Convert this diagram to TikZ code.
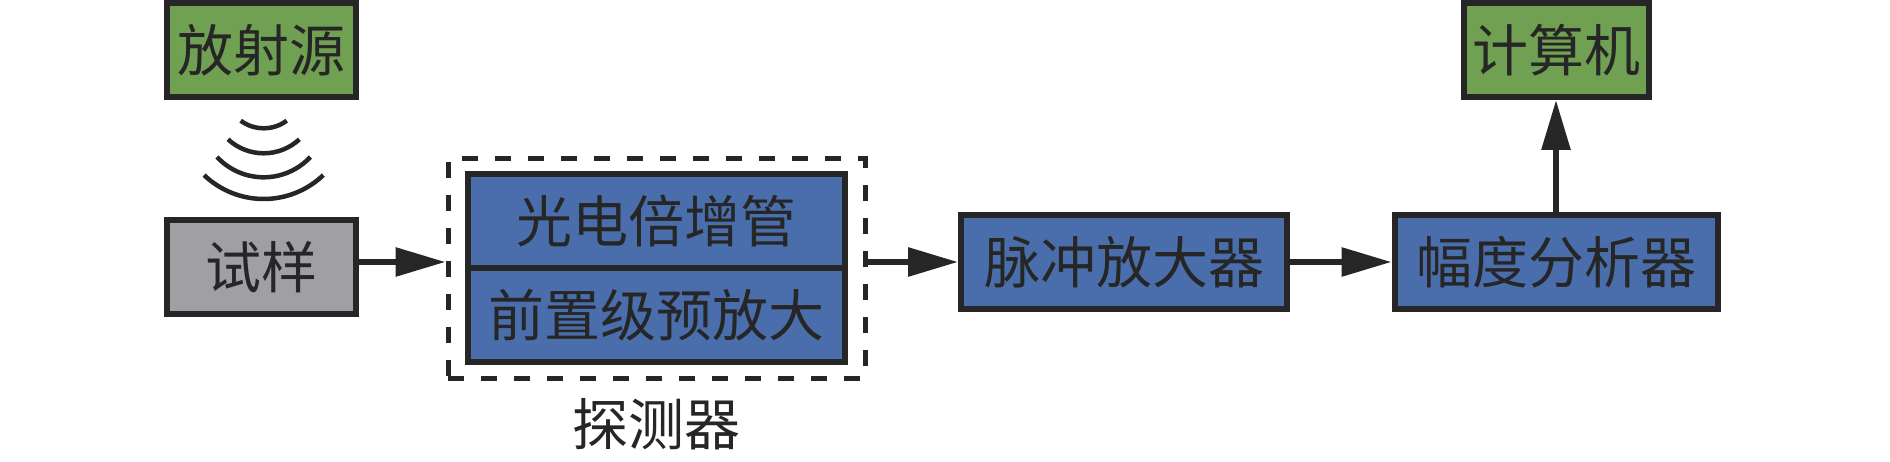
\documentclass[tikz,border=0pt]{standalone}
\usepackage{fontspec}
\setmainfont{Noto Sans CJK SC}
\usepackage{tikz}
\usetikzlibrary{arrows.meta,positioning}

\definecolor{boxgreen}{RGB}{112,160,82}
\definecolor{boxblue}{RGB}{74,110,172}
\definecolor{boxgray}{RGB}{160,160,164}
\definecolor{inkdark}{RGB}{38,38,38}

\begin{document}
\begin{tikzpicture}[x=1pt,y=1pt,on grid,
		font=\fontsize{56}{60}\selectfont,
		block/.style={draw=inkdark,line width=6pt,inner sep=0pt,text=inkdark,
			minimum height=94pt},
		greenblock/.style={block,fill=boxgreen},
		blueblock/.style={block,fill=boxblue},
		grayblock/.style={block,fill=boxgray},
		flow/.style={draw=inkdark,line width=6pt,-{Triangle[length=50pt,width=28pt]}},
		wave/.style={draw=inkdark,line width=4.5pt}]
				\useasboundingbox (0,0) rectangle (1890,-462);

				\node[greenblock,minimum width=189pt] (src) at (261.5,-50)      {放射源};
				\node[grayblock, minimum width=189pt] (smp) [below=217.5pt of src] {试样};
				\node[blueblock, minimum width=377pt] (pmt) at (656.5,-221)     {光电倍增管};
				\node[blueblock, minimum width=377pt] (pre) [below=94pt of pmt]  {前置级预放大};
				\node[draw=inkdark,line width=5pt,dash pattern=on 16pt off 17pt,
					minimum width=417pt,minimum height=219pt] (det) at (656.5,-268.5) {};
				\node[text=inkdark,inner sep=0pt]     (detl) at (656.5,-424)    {探测器};
				\node[blueblock, minimum width=326pt] (pulse) at (1124,-262)    {脉冲放大器};
				\node[blueblock, minimum width=323pt] (pha) at (1556,-262)      {幅度分析器};
				\node[greenblock,minimum width=185pt] (pc) [above=212pt of pha] {计算机};

				% radiation from the source
				\foreach \r/\cy/\a in {38.6/89.7/36.6, 52.5/100.8/42.8, 63.9/113.4/47, 86.3/112.7/43.7}
					\draw[wave] (263.7,-\cy) ++(270-\a:\r) arc[start angle=270-\a,end angle=270+\a,radius=\r];

				\draw[flow] (smp.east |- pulse) -- (det.west |- pulse);
				\draw[flow] (det.east |- pulse) -- (pulse.west);
				\draw[flow] (pulse) -- (pha);
				\draw[flow] (pha) -- (pc);

\end{tikzpicture}
\end{document}
